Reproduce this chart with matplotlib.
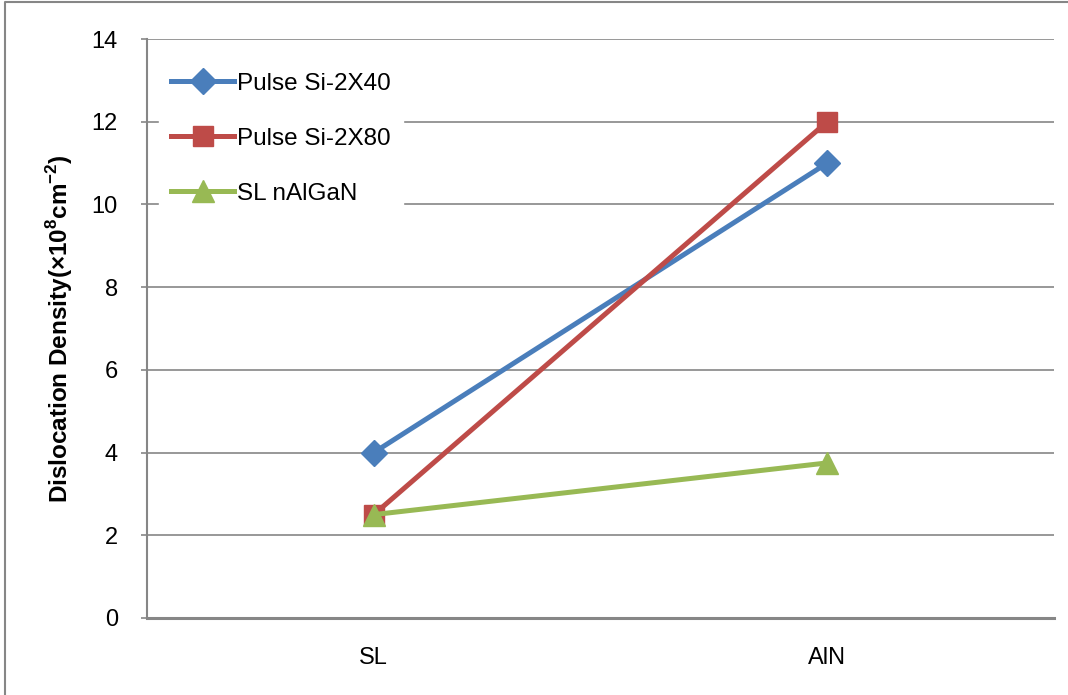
import matplotlib
matplotlib.use('Agg')
import matplotlib.pyplot as plt
from matplotlib.lines import Line2D

# data
categories = ['SL', 'AlN']
pulse_40 = [4.0, 11.0]
pulse_80 = [2.5, 12.0]
sl_nalgan = [2.5, 3.75]
series_names = ['Pulse Si-2X40', 'Pulse Si-2X80', 'SL nAlGaN']
y_ticks = [0, 2, 4, 6, 8, 10, 12, 14]

plt.rcParams['font.family'] = ['Liberation Sans', 'DejaVu Sans']
plt.rcParams['mathtext.fontset'] = 'custom'
plt.rcParams['mathtext.rm'] = 'Liberation Sans'
plt.rcParams['mathtext.bf'] = 'Liberation Sans:bold'

fig = plt.figure(figsize=(10.68, 6.95), dpi=100)
ax = fig.add_axes([147/1068, 1 - 618/695, (1054-147)/1068, (618-39)/695])

x = range(len(categories))
ax.plot(x, pulse_40, color='#4A7EBB', lw=3.6, marker='D', ms=13, label=series_names[0])
ax.plot(x, pulse_80, color='#BE4B48', lw=3.6, marker='s', ms=15, label=series_names[1])
ax.plot(x, sl_nalgan, color='#98B954', lw=3.6, marker='^', ms=16, label=series_names[2])

ax.set_xlim(-0.5, 1.5)
ax.set_ylim(0, 14)
ax.set_yticks(y_ticks)
ax.set_xticks(list(x))
ax.set_xticklabels(categories)
ax.yaxis.grid(True, color='#868686', lw=1.2)
ax.set_axisbelow(True)
for s in ['top', 'right']:
    ax.spines[s].set_visible(False)
ax.spines['left'].set_color('#868686')
ax.spines['left'].set_linewidth(1.5)
ax.spines['bottom'].set_color('#868686')
ax.spines['bottom'].set_linewidth(2.2)
ax.tick_params(axis='y', length=4, width=1.2, color='#868686', pad=17, labelsize=17)
ax.tick_params(axis='x', length=0, pad=21, labelsize=17)

ax.set_ylabel(r'Dislocation Density(×10$^\mathbf{8}$cm$^\mathbf{-2}$)',
              fontsize=17.5, fontweight='bold', labelpad=12)

leg = ax.legend(loc='upper left', bbox_to_anchor=(0.005, 0.975), frameon=True,
                fontsize=17.5, handlelength=2.6, handletextpad=0.1,
                labelspacing=1.35, borderaxespad=0.3, borderpad=0.5)
leg.get_frame().set_edgecolor('white')
leg.get_frame().set_facecolor('white')
leg.get_frame().set_alpha(1)

# figure border (only top and left edges visible in the reference)
fig.add_artist(Line2D([5/1068, 5/1068, 1.0], [0.0, 1 - 2/695, 1 - 2/695],
                      transform=fig.transFigure, color='#868686', lw=1.5))

fig.savefig('out.png', dpi=100, facecolor='white')
